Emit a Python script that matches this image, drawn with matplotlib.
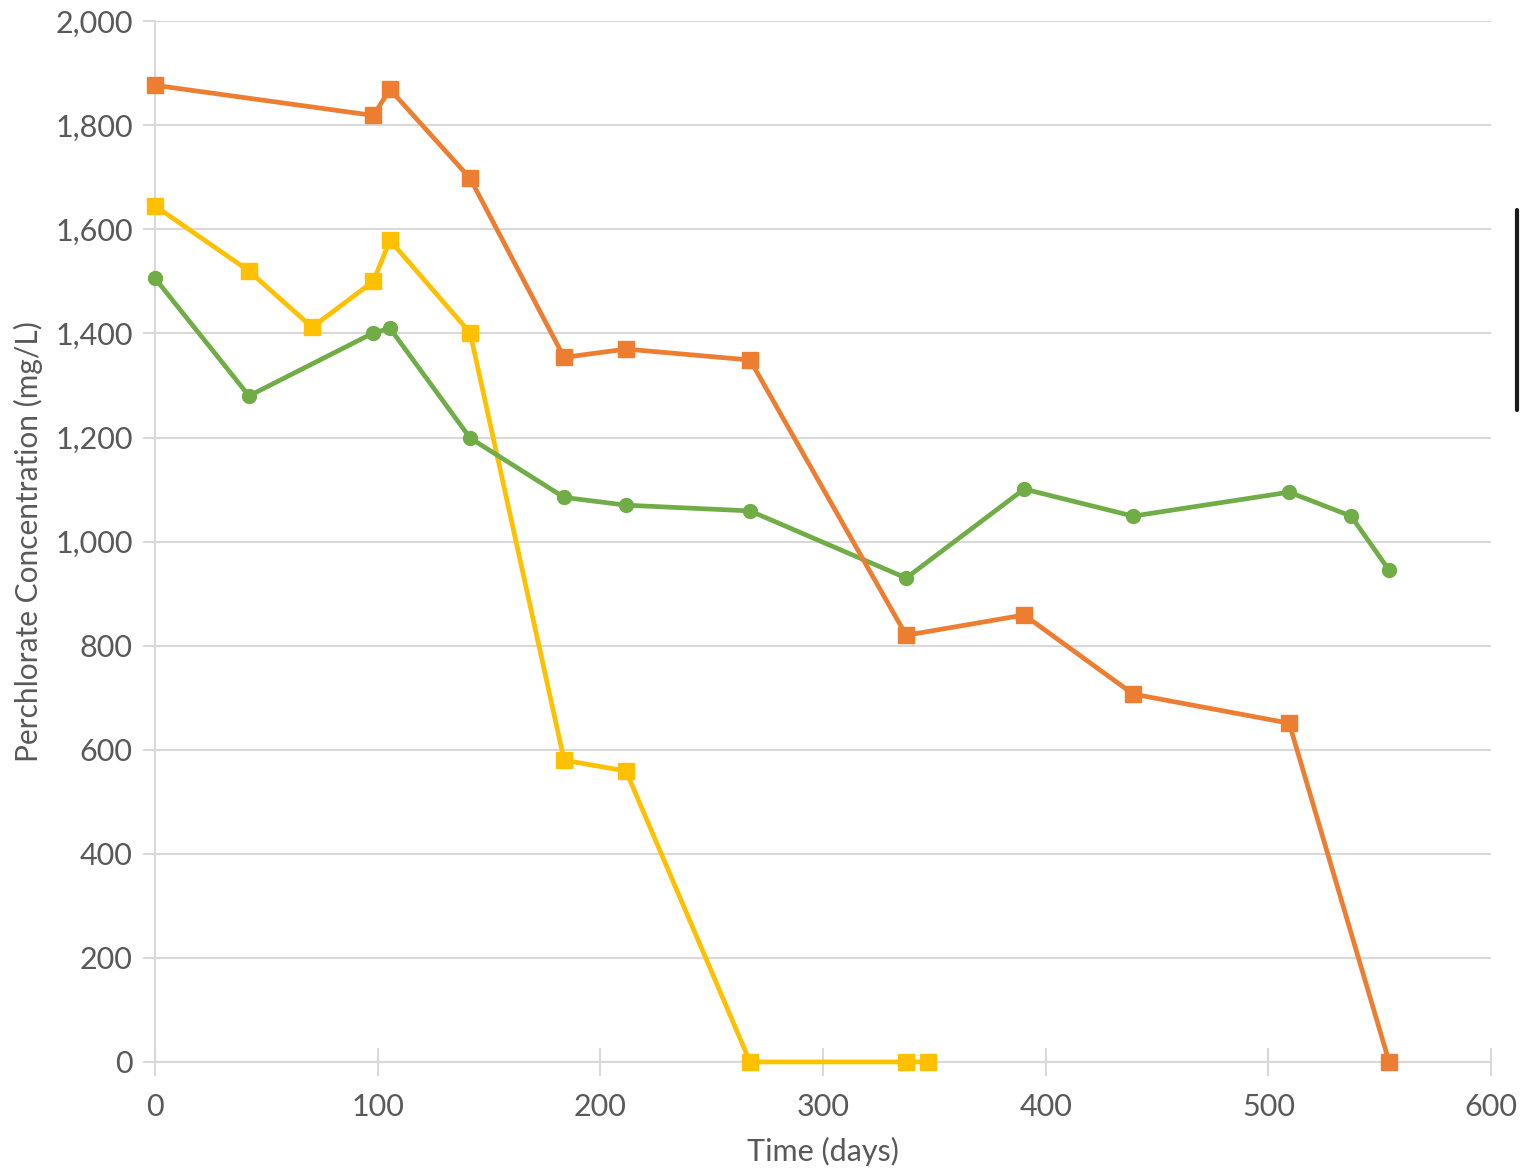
import matplotlib.pyplot as plt
from matplotlib.lines import Line2D
from matplotlib.ticker import FuncFormatter

plt.rcParams['font.family'] = ['Lato', 'DejaVu Sans']

# series (days, mg/L)
orange_days = [0, 98, 105.5, 141.5, 183.7, 211.5, 267.2, 337.3, 390.3, 439.2, 509.3, 554.2]
orange_conc = [1877, 1819, 1869, 1698, 1354, 1370, 1349, 820, 859, 707, 651, 0]

yellow_days = [0, 42.2, 70.5, 98, 105.5, 141.5, 183.7, 211.5, 267.2, 337.3, 347.2]
yellow_conc = [1645, 1520, 1412, 1500, 1579, 1401, 580, 559, 0, 0, 0]

green_days = [0, 42.2, 98, 105.5, 141.5, 183.7, 211.5, 267.2, 337.3, 390.3, 439.2, 509.3, 537.1, 554.2]
green_conc = [1506, 1280, 1401, 1410, 1199, 1085, 1070, 1059, 930, 1101, 1049, 1095, 1049, 945]

grey_txt = '#595959'
grid_c = '#d9d9d9'

fig = plt.figure(figsize=(15.2, 11.68), dpi=100)
ax = fig.add_axes([0.102, 0.0908, 0.879, 0.891])

ax.plot(yellow_days, yellow_conc, color='#FFC000', lw=3.4, marker='s', ms=11.5, zorder=3, clip_on=False)
ax.plot(green_days, green_conc, color='#70AD47', lw=3.4, marker='o', ms=10, zorder=4, clip_on=False)
ax.plot(orange_days, orange_conc, color='#ED7D31', lw=3.4, marker='s', ms=11.5, zorder=5, clip_on=False)

ax.set_xlim(0, 600)
ax.set_ylim(0, 2000)
ax.set_xticks(range(0, 601, 100))
ax.set_yticks(range(0, 2001, 200))
ax.yaxis.set_major_formatter(FuncFormatter(lambda v, p: f'{int(v):,}'))

ax.grid(axis='y', color=grid_c, lw=1.5, zorder=0)
for s in ['top', 'right']:
    ax.spines[s].set_visible(False)
ax.spines['left'].set_color(grid_c)
ax.spines['left'].set_linewidth(1.5)
ax.spines['bottom'].set_color(grid_c)
ax.spines['bottom'].set_linewidth(1.5)
ax.tick_params(axis='x', direction='inout', length=20, width=1.5, color=grid_c,
               labelsize=22, labelcolor=grey_txt, pad=12)
ax.tick_params(axis='y', direction='out', length=9, width=1.5, color=grid_c,
               labelsize=22, labelcolor=grey_txt, pad=7)

ax.set_xlabel('Time (days)', fontsize=22, color=grey_txt, labelpad=12)
ax.set_ylabel('Perchlorate Concentration (mg/L)', fontsize=21.5, color=grey_txt, labelpad=9)

# cut-off border at the right edge
fig.add_artist(Line2D([1517 / 1520, 1517 / 1520], [1 - 210 / 1168, 1 - 410 / 1168],
                      color='#1a1a1a', lw=3, solid_capstyle='round'))

plt.savefig('out.png', dpi=100)
